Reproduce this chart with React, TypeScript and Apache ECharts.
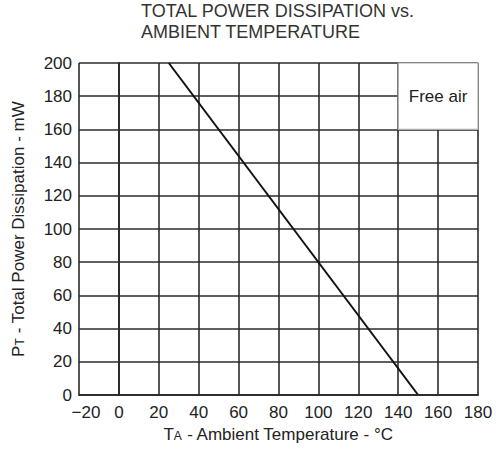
import React, { useEffect, useRef } from "react";
import * as echarts from "echarts";

const titleLines = ["TOTAL POWER DISSIPATION vs.", "AMBIENT TEMPERATURE"];
const xRange = [-20, 180];
const xStep = 20;
const yRange = [0, 200];
const yStep = 20;
const deratingTemps = [25, 150];
const deratingPower = [200, 0];
const noteTemps = [140, 180];
const notePower = [160, 200];
const noteText = "Free air";
const xName = "T{s|A} - Ambient Temperature - °C";
const yName = "P{s|T} - Total Power Dissipation - mW";

const FONT = "Liberation Sans, Arial, sans-serif";
const INK = "#222";
const GRID = "#2b2b2b";

export default function App() {
  const ref = useRef<HTMLDivElement>(null);
  useEffect(() => {
    document.body.style.margin = "0";
    const chart = echarts.init(ref.current!, null, { renderer: "svg" });
    const lineData = deratingTemps.map((t, i) => [t, deratingPower[i]]);
    chart.setOption({
      animation: false,
      backgroundColor: "#fff",
      textStyle: { fontFamily: FONT },
      title: {
        text: titleLines.join("\n"),
        left: 141,
        top: 0,
        padding: 0,
        textStyle: { fontFamily: FONT, fontSize: 18, fontWeight: "normal", color: "#333", lineHeight: 21 },
      },
      grid: { left: 79, right: 18, top: 63, bottom: 55, containLabel: false },
      xAxis: [
        {
          type: "value",
          min: xRange[0],
          max: xRange[1],
          interval: xStep,
          position: "bottom",
          axisLine: { show: true, lineStyle: { color: GRID, width: 1.6 } },
          axisTick: { show: false },
          splitLine: { show: true, lineStyle: { color: GRID, width: 1.6 } },
          axisLabel: {
            margin: 9,
            fontSize: 17,
            color: INK,
            fontFamily: FONT,
            formatter: (v: number) =>
              v === xRange[0] ? "{first|" + String(v).replace("-", "\u2212") + "}" : String(v),
            rich: { first: { fontSize: 17, color: INK, fontFamily: FONT, padding: [0, 0, 0, 14] } },
          },
          name: xName,
          nameLocation: "middle",
          nameGap: 31,
          nameTextStyle: {
            fontSize: 17,
            color: INK,
            fontFamily: FONT,
            rich: { s: { fontSize: 12, color: INK, fontFamily: FONT, verticalAlign: "bottom", padding: [0, 0, 1, 0] } },
          },
        },
        {
          type: "value",
          min: xRange[0],
          max: xRange[1],
          interval: xStep,
          position: "top",
          z: 5,
          axisLine: { show: true, lineStyle: { color: GRID, width: 1.6 } },
          axisTick: { show: false },
          axisLabel: { show: false },
          splitLine: { show: false },
        },
      ],
      yAxis: [
        {
          type: "value",
          min: yRange[0],
          max: yRange[1],
          interval: yStep,
          position: "left",
          axisLine: { show: true, lineStyle: { color: GRID, width: 1.6 } },
          axisTick: { show: false },
          splitLine: { show: true, lineStyle: { color: GRID, width: 1.6 } },
          axisLabel: { margin: 7, fontSize: 17, color: INK, fontFamily: FONT },
          name: yName,
          nameLocation: "middle",
          nameGap: 52,
          nameTextStyle: {
            fontSize: 17,
            color: INK,
            fontFamily: FONT,
            rich: { s: { fontSize: 12, color: INK, fontFamily: FONT, verticalAlign: "bottom", padding: [0, 0, 1, 0] } },
          },
        },
        {
          type: "value",
          min: yRange[0],
          max: yRange[1],
          interval: yStep,
          position: "right",
          z: 5,
          axisLine: { show: true, lineStyle: { color: GRID, width: 1.6 } },
          axisTick: { show: false },
          axisLabel: { show: false },
          splitLine: { show: false },
        },
      ],
      series: [
        {
          type: "line",
          data: lineData,
          symbol: "none",
          lineStyle: { color: "#111", width: 2 },
          markArea: {
            silent: true,
            itemStyle: { color: "#fff", borderColor: "#aaa", borderWidth: 1.2 },
            label: {
              show: true,
              position: "inside",
              fontSize: 17,
              color: INK,
              fontFamily: FONT,
            },
            data: [
              [
                { name: noteText, xAxis: noteTemps[0], yAxis: notePower[1] },
                { xAxis: noteTemps[1], yAxis: notePower[0] },
              ],
            ],
          },
        },
      ],
    });
    return () => chart.dispose();
  }, []);
  return <div ref={ref} style={{ width: 496, height: 450 }} />;
}
